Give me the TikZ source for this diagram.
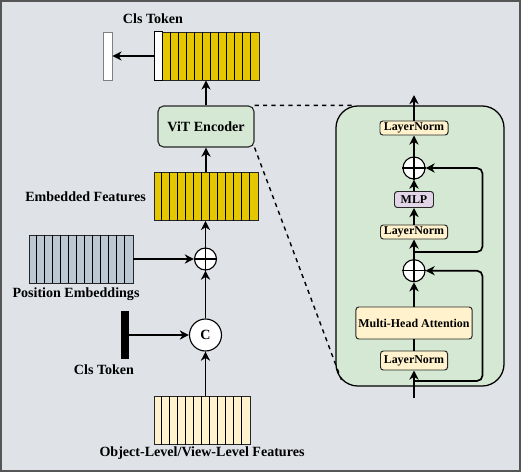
\documentclass[tikz,border=0pt]{standalone}
\usepackage{fontspec}
\setmainfont{Liberation Serif}
\usetikzlibrary{arrows.meta,positioning,calc}

\definecolor{bgray}{RGB}{223,227,232}
\definecolor{frame}{RGB}{85,85,85}
\definecolor{tokyellow}{RGB}{229,199,0}
\definecolor{lnyellow}{RGB}{255,242,204}
\definecolor{posblue}{RGB}{187,200,211}
\definecolor{tfgreen}{RGB}{213,232,212}
\definecolor{mlppurple}{RGB}{225,213,231}

% separators of a token block, one every 8 units
\newcommand{\cellsep}[2]{%
  \foreach \i in {1,...,#2}
    \draw[-, line width=0.6pt] ($(#1.north west)+(\i*8,0)$) -- ($(#1.south west)+(\i*8,0)$);}

\begin{document}
\begin{tikzpicture}[->, >={Stealth[length=6.5pt, width=6.5pt, inset=2pt]}, semithick, x=0.025cm, y=-0.025cm, font=\fontsize{10}{12}\selectfont\bfseries]
	\tikzstyle{tokens}=[draw=black!85, line width=0.6pt, minimum width=2.6cm, minimum height=1.2cm, inner sep=0pt]
	\tikzstyle{lbl}=[inner sep=1pt]
	\tikzstyle{op}=[circle, draw, fill=white, line width=0.8pt, minimum size=0.55cm, inner sep=0pt]
	\tikzstyle{vit}=[draw=black!85, rounded corners=4pt, fill=tfgreen, line width=0.8pt, minimum width=2.4cm, minimum height=1.025cm]
	\tikzstyle{layer}=[draw=black!85, rounded corners=2pt, fill=lnyellow, line width=0.7pt, inner sep=1pt, minimum width=1.675cm, minimum height=0.35cm, font=\fontsize{8.5}{10}\selectfont\bfseries]
	\tikzstyle{flow}=[->, line width=1.4pt]

	\useasboundingbox (0,0) rectangle (522,474);
	\draw[-, fill=bgray, draw=frame, line width=1.4pt] (1,1) rectangle (520,471);

	% left column
	\node[tokens, fill=tokyellow]   (out)    at (207,56)    {};
	\node[tokens, fill=white, draw=gray, minimum width=0.225cm] (clsout) at (107.5,56) {};
	\node[lbl]                      (outl)   at (153,19)    {Cls Token};
	\node[vit]                      (vit)    at (206,126.5) {ViT Encoder};
	\node[tokens, fill=tokyellow]   (emb)    at (206,196.5) {};
	\node[lbl]                      (embl)   [left=0.15cm of emb] {Embedded Features};
	\node[op]                       (add)    at (205.5,259) {};
	\node[tokens, fill=posblue]     (pos)    at (81,259)    {};
	\node[lbl]                      (posl)   at (76,294)    {Position Embeddings};
	\node[op, minimum size=0.8cm]   (cat)    at (205.5,335) {C};
	\node[fill=black, minimum width=0.2cm, minimum height=1.2cm, inner sep=0pt] (cls) at (125,335) {};
	\node[lbl]                      (clsl)   at (104,370)   {Cls Token};
	\node[tokens, fill=lnyellow, minimum width=2.4cm] (feat) at (202,420.5) {};
	\node[lbl]                      (featl)  [below=0pt of feat] {Object-Level/View-Level Features};

	\draw[-, line width=0.6pt, fill=white] (out.north west) rectangle ($(out.south west)+(8,0)$);
	\cellsep{out}{12}
	\cellsep{emb}{12}
	\cellsep{pos}{12}
	\cellsep{feat}{11}

	% encoder block
	\node[draw, rounded corners=0.55cm, fill=tfgreen, line width=0.9pt, minimum width=4.2cm, minimum height=7cm] (tf) at (420,246) {};
	\draw[-, dashed, line width=1pt] (vit.north east) -- ($(tf.north west)+(20,0)$);
	\draw[-, dashed, line width=1pt] (vit.south east) -- ($(tf.south west)+(6,-7)$);

	\node[layer, minimum width=1.7cm]                        (ln1)  at (414,128)   {LayerNorm};
	\node[op]                                                (add1) at (414,168)   {};
	\node[layer, fill=mlppurple, minimum width=0.975cm, minimum height=0.4cm] (mlp) at (414,199.5) {MLP};
	\node[layer]                                             (ln2)  at (414,232)   {LayerNorm};
	\node[op]                                                (add2) at (414,270.7) {};
	\node[layer, minimum width=2.9cm, minimum height=0.8cm]  (mha)  at (414,323)   {Multi-Head Attention};
	\node[layer, minimum height=0.475cm]                     (ln3)  at (414,360.5) {LayerNorm};
	\coordinate (in)     at (414,398);
	\coordinate (res1)   at (414,381);
	\coordinate (res2)   at (414,252);
	\coordinate (outtop) at (414,95);

	\foreach \n in {add,add1,add2}
		\draw[-, line width=0.8pt] (\n.north) -- (\n.south) (\n.west) -- (\n.east);

	\path % main flow
	(cat |- feat.north) edge[flow]  (cat)
	(cls)               edge[flow]  (cat)
	(cat)               edge[flow]  (add)
	(pos)               edge[flow]  (add)
	(add)               edge[flow]  (add |- emb.south)
	(vit |- emb.north)  edge[flow]  (vit)
	(vit)               edge[flow]  (vit |- out.south)
	(out)               edge[flow]  (clsout);

	\path % inside the encoder
	(in)   edge[flow, line width=1.2pt] (ln3)
	(ln3)  edge[-, line width=1.2pt]    (mha)
	(mha)  edge[flow, line width=1.6pt] (add2)
	(add2) edge[flow, line width=1.2pt] (ln2)
	(ln2)  edge[flow, line width=1.2pt] (mlp)
	(mlp)  edge[flow, line width=1.2pt] (add1)
	(add1) edge[flow, line width=1.2pt] (ln1)
	(ln1)  edge[flow, line width=1.2pt] (outtop);

	\draw[flow, line width=1.2pt, rounded corners=4pt] (res1) -| ($(add2.east)+(57,0)$) -- (add2.east);
	\draw[flow, line width=1.2pt, rounded corners=4pt] (res2) -| ($(add1.east)+(57,0)$) -- (add1.east);
\end{tikzpicture}
\end{document}
